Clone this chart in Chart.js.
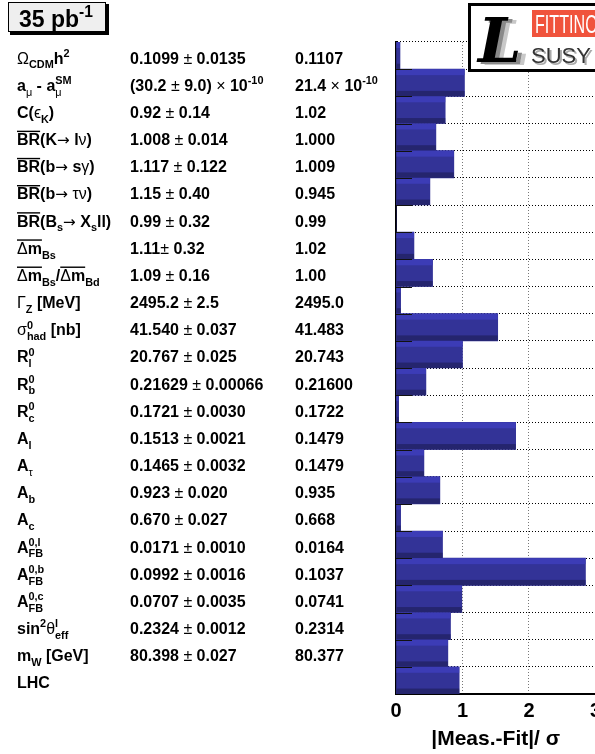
<!DOCTYPE html>
<html>
<head>
<meta charset="utf-8">
<script src="https://cdn.jsdelivr.net/npm/chart.js@4.4.1/dist/chart.umd.min.js"></script>
<style>
  html, body { margin: 0; padding: 0; background: #fff; overflow: hidden; }
  #wrap { position: relative; width: 595px; height: 754px; overflow: hidden; }
  #pulls { display: block; }
</style>
</head>
<body>
<div id="wrap"><canvas id="pulls" width="608" height="754"></canvas></div>
<script>
// Observables (markup: _{..} subscript, ^{..} superscript, #bar{..} overline)
const observables = [
  'Ω_{CDM}h^{2}',
  'a_{μ} - a_{μ}^{SM}',
  'C(ϵ_{K})',
  '#bar{BR}(K→ lν)',
  '#bar{BR}(b→ sγ)',
  '#bar{BR}(b→ τν)',
  '#bar{BR}(B_{s}→ X_{s}ll)',
  '#bar{Δm}_{Bs}',
  '#bar{Δm}_{Bs}/#bar{Δm}_{Bd}',
  'Γ_{Z} [MeV]',
  'σ^{0}_{had} [nb]',
  'R^{0}_{l}',
  'R^{0}_{b}',
  'R^{0}_{c}',
  'A_{l}',
  'A_{τ}',
  'A_{b}',
  'A_{c}',
  'A^{0,l}_{FB}',
  'A^{0,b}_{FB}',
  'A^{0,c}_{FB}',
  'sin^{2}θ^{l}_{eff}',
  'm_{W} [GeV]',
  'LHC'
];

// Measured values with uncertainties
const measured = [
  '0.1099 ± 0.0135',
  '(30.2 ± 9.0) × 10^{-10}',
  '0.92 ± 0.14',
  '1.008 ± 0.014',
  '1.117 ± 0.122',
  '1.15 ± 0.40',
  '0.99 ± 0.32',
  '1.11± 0.32',
  '1.09 ± 0.16',
  '2495.2 ± 2.5',
  '41.540 ± 0.037',
  '20.767 ± 0.025',
  '0.21629 ± 0.00066',
  '0.1721 ± 0.0030',
  '0.1513 ± 0.0021',
  '0.1465 ± 0.0032',
  '0.923 ± 0.020',
  '0.670 ± 0.027',
  '0.0171 ± 0.0010',
  '0.0992 ± 0.0016',
  '0.0707 ± 0.0035',
  '0.2324 ± 0.0012',
  '80.398 ± 0.027',
  ''
];

// Best-fit predictions
const fitted = [
  '0.1107', '21.4 × 10^{-10}', '1.02', '1.000', '1.009', '0.945', '0.99',
  '1.02', '1.00', '2495.0', '41.483', '20.743', '0.21600', '0.1722',
  '0.1479', '0.1479', '0.935', '0.668', '0.0164', '0.1037', '0.0741',
  '0.2314', '80.377', ''
];

// |Meas. - Fit| / sigma for each observable
const pulls = [
  0.06, 1.03, 0.74, 0.60, 0.87, 0.51, 0.00, 0.27, 0.55, 0.07, 1.53, 1.00,
  0.45, 0.04, 1.80, 0.42, 0.66, 0.07, 0.70, 2.85, 0.99, 0.82, 0.78, 0.95
];

const xTickLabels = ['0', '1', '2', '3'];
const lumiLabel = '35 pb^{-1}';

const FAMILY = '"Liberation Sans", Arial, Helvetica, sans-serif';
const ARROW_FAMILY = '"DejaVu Sans", sans-serif';
const SYMBOLS = /[\u0370-\u03FF±→×∈]/;

// --- minimal rich-text layout -------------------------------------------
function parseRich(s) {
  let i = 0;
  function group() {
    const out = [];
    let buf = '';
    const flush = () => { if (buf) { out.push({ t: 'txt', s: buf }); buf = ''; } };
    while (i < s.length) {
      const c = s[i];
      if (c === '}') { i++; break; }
      if ((c === '_' || c === '^') && s[i + 1] === '{') {
        flush();
        i += 2;
        const g = group();
        const last = out[out.length - 1];
        if (last && last.t === 'scr' && !last[c]) last[c] = g;
        else out.push({ t: 'scr', [c]: g });
        continue;
      }
      if (s.startsWith('#bar{', i)) {
        flush();
        i += 5;
        out.push({ t: 'bar', k: group() });
        continue;
      }
      buf += c;
      i++;
    }
    flush();
    return out;
  }
  return group();
}

function runs(str) {
  const out = [];
  for (const ch of str) {
    const kind = ch === '→' ? 'arrow' : (SYMBOLS.test(ch) ? 'sym' : 'txt');
    const last = out[out.length - 1];
    if (last && last.kind === kind) last.s += ch;
    else out.push({ s: ch, kind });
  }
  return out;
}

function fontFor(kind, size) {
  if (kind === 'arrow') return (size * 0.95) + 'px ' + ARROW_FAMILY;
  return (kind === 'sym' ? '' : 'bold ') + size + 'px ' + FAMILY;
}

function drawNodes(ctx, nodes, x, y, size) {
  for (const n of nodes) {
    if (n.t === 'txt') {
      for (const r of runs(n.s)) {
        ctx.font = fontFor(r.kind, size);
        ctx.fillText(r.s, x, y);
        x += ctx.measureText(r.s).width;
      }
    } else if (n.t === 'scr') {
      const ss = size * 0.68;
      let w = 0;
      if (n['^']) w = Math.max(w, drawNodes(ctx, n['^'], x, y - size * 0.42, ss) - x);
      if (n['_']) w = Math.max(w, drawNodes(ctx, n['_'], x, y + size * 0.3, ss) - x);
      x += w;
    } else if (n.t === 'bar') {
      const x2 = drawNodes(ctx, n.k, x, y, size);
      ctx.fillRect(x, y - size * 0.9, x2 - x, 1.4);
      x = x2;
    }
  }
  return x;
}

function drawRich(ctx, str, x, y, size) {
  ctx.textBaseline = 'alphabetic';
  ctx.textAlign = 'left';
  return drawNodes(ctx, parseRich(str), x, y, size);
}

// --- plugins -------------------------------------------------------------
const barShading = {
  id: 'barShading',
  afterDatasetsDraw(chart) {
    const ctx = chart.ctx;
    const meta = chart.getDatasetMeta(0);
    ctx.save();
    meta.data.forEach(bar => {
      const p = bar.getProps(['x', 'y', 'base', 'height'], true);
      const left = Math.min(p.base, p.x);
      const w = Math.abs(p.x - p.base);
      const top = p.y - p.height / 2;
      ctx.fillStyle = '#3c3cb6';
      ctx.fillRect(left, top, w, p.height * 0.22);
      ctx.fillStyle = '#25256e';
      ctx.fillRect(left, top + p.height * 0.8, w, p.height * 0.2);
    });
    ctx.restore();
  }
};

const sideTable = {
  id: 'sideTable',
  afterDraw(chart) {
    const ctx = chart.ctx;
    const y = chart.scales.y;
    const area = chart.chartArea;
    ctx.save();

    // short tick marks on the left axis at row boundaries
    const rowH = (y.bottom - y.top) / observables.length;
    ctx.strokeStyle = '#111';
    ctx.lineWidth = 1;
    for (let k = 1; k < observables.length; k++) {
      const yy = Math.round(y.top + k * rowH) + 0.5;
      ctx.beginPath();
      ctx.moveTo(area.left, yy);
      ctx.lineTo(area.left + 16, yy);
      ctx.stroke();
    }

    // table of observables, measurements and fit values
    ctx.fillStyle = '#000';
    observables.forEach((name, i) => {
      const base = y.getPixelForValue(i) + 8;
      drawRich(ctx, name, 17, base, 16);
      if (measured[i]) drawRich(ctx, measured[i], 130, base, 16);
      if (fitted[i]) drawRich(ctx, fitted[i], 295, base, 16);
    });

    // luminosity box
    ctx.fillStyle = '#000';
    ctx.fillRect(10, 4, 99, 31);
    ctx.fillStyle = '#efefef';
    ctx.fillRect(8, 2, 98, 30);
    ctx.strokeStyle = '#000';
    ctx.lineWidth = 1;
    ctx.strokeRect(8.5, 2.5, 97, 29);
    ctx.fillStyle = '#000';
    drawRich(ctx, lumiLabel, 19, 27, 23);

    // Fittino logo
    ctx.fillStyle = '#fff';
    ctx.fillRect(468, 3, 140, 69);
    ctx.strokeStyle = '#000';
    ctx.lineWidth = 3;
    ctx.strokeRect(469.5, 4.5, 140, 66);
    ctx.fillStyle = '#f0533c';
    ctx.fillRect(532, 10, 70, 27);
    ctx.save();
    ctx.translate(535, 33);
    ctx.scale(0.62, 1);
    ctx.fillStyle = '#fff';
    ctx.font = '26px ' + FAMILY;
    ctx.fillText('FITTINO', 0, 0);
    ctx.restore();

    ctx.font = 'italic bold 62px "DejaVu Serif", "Liberation Serif", serif';
    ctx.fillStyle = '#c8c8c8';
    ctx.fillText('L', 486, 65);
    ctx.fillStyle = '#8a8a8a';
    ctx.fillText('L', 482, 64);
    ctx.fillStyle = '#000';
    ctx.fillText('L', 478, 62);
    ctx.font = '22px ' + FAMILY;
    ctx.fillStyle = '#aaa';
    ctx.fillText('SUSY', 533, 65);
    ctx.fillStyle = '#333';
    ctx.fillText('SUSY', 531, 63);

    ctx.restore();
  }
};

new Chart(document.getElementById('pulls'), {
  type: 'bar',
  data: {
    labels: observables,
    datasets: [{
      data: pulls,
      backgroundColor: '#333397',
      borderWidth: 0,
      barPercentage: 1,
      categoryPercentage: 1
    }]
  },
  options: {
    indexAxis: 'y',
    responsive: false,
    animation: false,
    events: [],
    layout: { padding: { left: 396, top: 42, right: 0, bottom: 0 } },
    plugins: { legend: { display: false }, tooltip: { enabled: false } },
    scales: {
      x: {
        min: 0,
        max: 3,
        z: 1,
        ticks: {
          stepSize: 1,
          maxRotation: 0,
          padding: 7,
          color: '#000',
          font: { family: FAMILY, weight: 'bold', size: 20, lineHeight: 1 },
          callback: (v, i) => xTickLabels[i]
        },
        grid: { color: '#777', lineWidth: 1, drawTicks: false },
        border: { display: true, color: '#000', width: 2, dash: [1, 2] },
        title: {
          display: true,
          text: '|Meas.-Fit|/ σ',
          color: '#000',
          font: { family: FAMILY, weight: 'bold', size: 21, lineHeight: 1 },
          padding: { top: 1, bottom: 4 }
        }
      },
      y: {
        z: 1,
        offset: true,
        ticks: { display: false },
        grid: { offset: true, color: '#000', lineWidth: 1, drawTicks: false },
        border: { display: true, color: '#000', width: 2, dash: [1, 2] }
      }
    }
  },
  plugins: [barShading, sideTable]
});
</script>
</body>
</html>
